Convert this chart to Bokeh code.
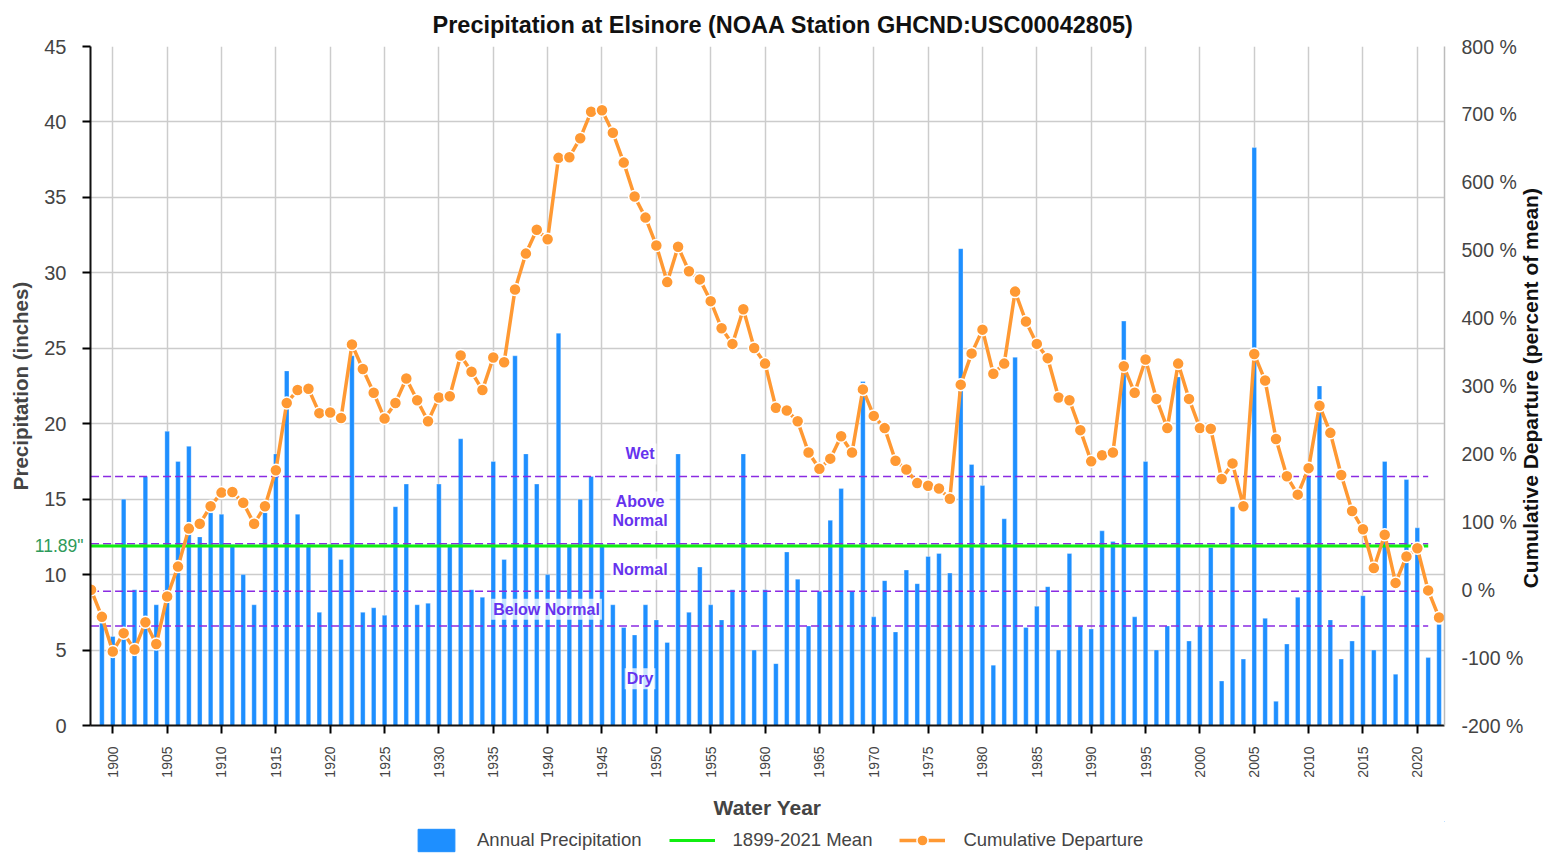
import math
from bokeh.plotting import figure
from bokeh.layouts import column
from bokeh.models import (Range1d, LinearAxis, FixedTicker, PrintfTickFormatter,
                          Label, Legend, LegendItem, ColumnDataSource)
from bokeh.embed import file_html
from bokeh.resources import INLINE

# ---------------- data ----------------
years = list(range(1899, 2023))
precip = [7.0, 5.9, 15.0, 9.0, 16.5, 8.0, 19.5, 17.5, 18.5, 12.5,
          14.1, 14.0, 12.0, 10.0, 8.0, 14.1, 18.0, 23.5, 14.0, 12.0,
          7.5, 12.0, 11.0, 24.5, 7.5, 7.8, 7.3, 14.5, 16.0, 8.0,
          8.1, 16.0, 12.0, 19.0, 9.0, 8.5, 17.5, 11.0, 24.5, 18.0,
          16.0, 10.0, 26.0, 12.0, 15.0, 16.5, 12.0, 8.0, 6.5, 6.0,
          8.0, 7.0, 5.5, 18.0, 7.5, 10.5, 8.0, 7.0, 9.0, 18.0,
          5.0, 9.0, 4.1, 11.5, 9.7, 6.6, 8.9, 13.6, 15.7, 8.9,
          22.8, 7.2, 9.6, 6.2, 10.3, 9.4, 11.2, 11.4, 10.1, 31.6,
          17.3, 15.9, 4.0, 13.7, 24.4, 6.5, 7.9, 9.2, 5.0, 11.4,
          6.6, 6.4, 12.9, 12.2, 26.8, 7.2, 17.5, 5.0, 6.6, 23.1,
          5.6, 6.6, 11.8, 2.95, 14.5, 4.4, 38.3, 7.1, 1.6, 5.4,
          8.5, 16.5, 22.5, 7.0, 4.4, 5.6, 8.6, 5.0, 17.5, 3.4,
          16.3, 13.1, 4.5, 6.7]

cum_years = list(range(1898, 2023))
cum_dep = [0, -40, -91, -64, -88, -48, -80, -10, 34, 90,
           97, 123, 143, 144, 128, 97, 123, 176, 275, 294,
           296, 260, 261, 253, 361, 325, 290, 252, 275, 311,
           279, 248, 283, 285, 345, 321, 294, 342, 335, 442,
           495, 530, 516, 636, 637, 665, 704, 706, 673, 629,
           579, 548, 507, 453, 505, 469, 457, 425, 385, 362,
           413, 356, 333, 268, 264, 248, 202, 178, 193, 226,
           202, 295, 256, 238, 190, 177, 157, 153, 149, 134,
           302, 348, 383, 318, 333, 439, 395, 362, 341, 283,
           279, 235, 189, 198, 202, 329, 290, 339, 281, 238,
           333, 281, 238, 237, 163, 186, 123, 347, 308, 222,
           167, 140, 179, 271, 231, 169, 116, 89, 32, 81,
           10, 49, 61, -1, -41]

mean_value = 11.89
mean_span = [1898, 2021]
class_bounds = [16.5, 12.05, 8.9, 6.6]
class_names = ["Wet", "Above\nNormal", "Normal", "Below Normal", "Dry"]
class_label_x = [1948.5, 1948.5, 1948.5, 1939.9, 1948.5]
class_label_y = [18.0, 14.2, 10.35, 7.7, 3.1]

x_ticks = list(range(1900, 2021, 5))
y_ticks = list(range(0, 46, 5))
pct_ticks = list(range(-200, 801, 100))
right_title = "Cumulative Departure (percent of mean)"
right_title_start = 2  # percent value where the rotated right title begins

FONT = "Liberation Sans"
BAR_COLOR = "#1e8fff"
MEAN_COLOR = "#11ee11"
CUM_COLOR = "#ff9933"

p = figure(width=1556, height=821, output_backend="svg", toolbar_location=None,
           x_range=Range1d(1897.95, 2022.5), y_range=Range1d(0, 45),
           min_border_left=90, min_border_right=111, min_border_top=46, min_border_bottom=96,
           title="Precipitation at Elsinore (NOAA Station GHCND:USC00042805)")
p.title.align = "left"
p.title.offset = 342
p.title.text_font = FONT
p.title.text_font_size = "23.5px"
p.title.text_font_style = "bold"
p.title.text_color = "#111111"
p.title.standoff = 18
p.outline_line_color = None

p.extra_y_ranges = {"pct": Range1d(-200, 800)}

# grid
p.xgrid.ticker = FixedTicker(ticks=x_ticks)
p.ygrid.ticker = FixedTicker(ticks=y_ticks)
for g in (p.xgrid, p.ygrid):
    g.grid_line_color = "#cccccc"
    g.grid_line_width = 1.5

# x axis
xa = p.xaxis[0]
xa.ticker = FixedTicker(ticks=x_ticks)
xa.major_label_orientation = math.pi / 2
xa.axis_label = "Water Year"
xa.axis_label_text_font = FONT
xa.axis_label_text_font_size = "21px"
xa.axis_label_text_font_style = "bold"
xa.axis_label_standoff = 15
xa.major_label_text_font = FONT
xa.major_label_text_font_size = "14px"
xa.major_label_standoff = 13
xa.axis_line_width = 2
xa.axis_line_color = "#111111"
xa.major_tick_out = 8
xa.major_tick_in = 0
xa.major_tick_line_width = 2
xa.minor_tick_line_color = None

# left y axis
ya = p.yaxis[0]
ya.ticker = FixedTicker(ticks=y_ticks)
ya.axis_label = "Precipitation (inches)"
ya.axis_label_text_font = FONT
ya.axis_label_text_font_size = "20.5px"
ya.axis_label_text_font_style = "bold"
ya.axis_label_standoff = 9
ya.major_label_text_font = FONT
ya.major_label_text_font_size = "20px"
ya.major_label_standoff = 16
ya.axis_line_width = 2
ya.axis_line_color = "#111111"
ya.major_tick_out = 8
ya.major_tick_in = 0
ya.major_tick_line_width = 2
ya.minor_tick_line_color = None

# mean value label, as an outer left axis whose label is pulled inward
ga = LinearAxis(ticker=FixedTicker(ticks=[mean_value]),
                major_label_overrides={mean_value: '%.2f"' % mean_value})
ga.axis_line_color = None
ga.major_tick_line_color = None
ga.minor_tick_line_color = None
ga.major_tick_out = 0
ga.major_tick_in = 0
ga.major_label_text_font = FONT
ga.major_label_text_font_size = "17.5px"
ga.major_label_text_color = "#2e9a5a"
ga.major_label_standoff = -77
p.add_layout(ga, "left")

# right axis: tick labels
ra = LinearAxis(y_range_name="pct", ticker=FixedTicker(ticks=pct_ticks),
                formatter=PrintfTickFormatter(format="%d %%"))
ra.major_label_text_font = FONT
ra.major_label_text_font_size = "19.5px"
ra.axis_line_color = "#bbbbbb"
ra.axis_line_width = 1.5
ra.major_tick_line_color = None
ra.minor_tick_line_color = None
ra.major_tick_out = 0
ra.major_tick_in = 0
ra.major_label_standoff = 17
p.add_layout(ra, "right")

# right axis title drawn as a rotated label reading bottom-to-top
rl = LinearAxis(y_range_name="pct", ticker=FixedTicker(ticks=[right_title_start]),
                major_label_overrides={right_title_start: right_title})
rl.axis_line_color = None
rl.major_tick_line_color = None
rl.minor_tick_line_color = None
rl.major_tick_out = 0
rl.major_tick_in = 0
rl.major_label_orientation = math.pi / 2
rl.major_label_text_font = FONT
rl.major_label_text_font_size = "21px"
rl.major_label_text_font_style = "bold"
rl.major_label_text_color = "#111111"
rl.major_label_standoff = 4
p.add_layout(rl, "right")

# bars
bar_src = ColumnDataSource(dict(x=years, top=precip))
p.vbar(x="x", top="top", bottom=0, width=0.42, source=bar_src,
       fill_color=BAR_COLOR, line_color="#ffffff", line_width=0.5, line_alpha=0.6)

# classification lines
for b in class_bounds:
    p.segment(x0=[mean_span[0]], y0=[b], x1=[mean_span[1]], y1=[b],
              line_color="#8a2be2", line_width=1.5, line_dash="8 4")

# mean line
p.line(x=mean_span, y=[mean_value, mean_value], line_color=MEAN_COLOR, line_width=3)

# class labels
for name, lx, ly in zip(class_names, class_label_x, class_label_y):
    p.add_layout(Label(x=lx, y=ly, text=name, text_align="center", text_baseline="middle",
                       text_font=FONT, text_font_size="16px", text_font_style="bold",
                       text_color="#6633ee", text_line_height=1.1,
                       background_fill_color="white", background_fill_alpha=0.75, padding=2))

# cumulative departure
cum_src = ColumnDataSource(dict(x=cum_years, y=cum_dep))
p.line(x="x", y="y", source=cum_src, y_range_name="pct", line_color=CUM_COLOR, line_width=3.5)
p.scatter(x="x", y="y", source=cum_src, y_range_name="pct", size=12,
          fill_color=CUM_COLOR, line_color="white", line_width=1.5)

# ---------------- legend strip ----------------
lg = figure(width=1556, height=33, output_backend="svg", toolbar_location=None,
            x_range=Range1d(0, 1), y_range=Range1d(0, 1), x_axis_type=None, y_axis_type=None,
            min_border=0)
lg.grid.visible = False
lg.outline_line_color = None
# legend-only renderers, their points lie outside the visible range
lb = lg.vbar(x=[5], top=[5], bottom=4, width=0.4, fill_color=BAR_COLOR, line_color=BAR_COLOR)
lm = lg.line(x=[5, 6], y=[5, 5], line_color=MEAN_COLOR, line_width=3)
lcl = lg.line(x=[5, 6], y=[5, 5], line_color=CUM_COLOR, line_width=3.5)
lcs = lg.scatter(x=[5], y=[5], size=12, fill_color=CUM_COLOR, line_color="white", line_width=1.5)
legend = Legend(items=[LegendItem(label="Annual Precipitation", renderers=[lb]),
                       LegendItem(label="1899-2021 Mean", renderers=[lm]),
                       LegendItem(label="Cumulative Departure", renderers=[lcl, lcs])],
                orientation="horizontal", location=(323, 0),
                label_text_font=FONT, label_text_font_size="18.5px",
                glyph_width=46, glyph_height=28, label_standoff=18, spacing=27,
                border_line_color=None, background_fill_alpha=0, padding=0, margin=0)
lg.add_layout(legend, "center")

layout = column(p, lg, spacing=0)
open("out.html", "w").write(file_html(layout, INLINE))
